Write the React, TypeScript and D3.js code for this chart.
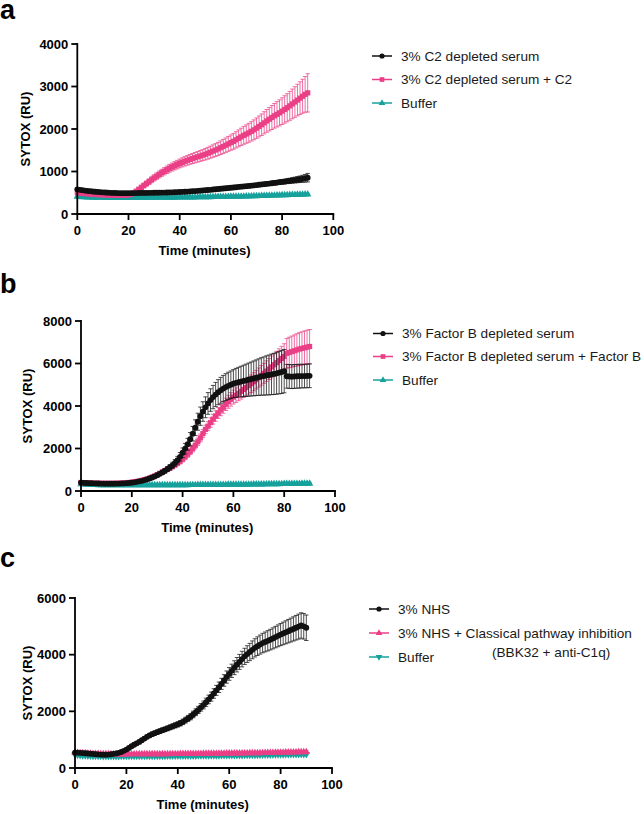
import React from "react";
import * as d3 from "d3";

// ---------- DATA ----------
const times: number[] = d3.range(0, 91, 1); // kinetic reads every minute, 0..90 min
const xTicks = [0, 20, 40, 60, 80, 100];

// Panel a
const aLegend = ["3% C2 depleted serum", "3% C2 depleted serum + C2", "Buffer"];
const aYTicks = [0, 1000, 2000, 3000, 4000];
const aBlack = [
  580,570,560,551,543,536,530,524,519,514,
  510,506,502,499,496,494,492,491,490,490,
  490,491,492,493,494,495,496,497,498,499,
  500,501,502,503,504,506,508,510,512,515,
  518,521,524,528,532,536,540,545,550,555,
  560,565,570,576,582,588,594,600,606,612,
  618,624,630,636,642,648,654,660,667,674,
  681,688,695,702,709,716,724,732,740,748,
  756,764,772,781,790,799,808,818,828,840,
  855];
const aBlackErr = [
  40,38,35,33,30,28,26,25,24,23,
  22,21,20,20,20,20,20,20,20,20,
  20,20,20,20,20,20,20,20,20,20,
  20,20,20,20,20,21,21,22,22,23,
  23,24,24,25,25,26,26,27,27,28,
  28,29,29,30,30,31,31,32,32,33,
  33,34,34,35,35,36,36,37,38,39,
  40,41,42,43,44,45,46,48,50,52,
  54,56,58,61,64,68,72,76,82,90,
  100];
const aPink = [
  500,493,486,480,474,469,464,460,456,453,
  450,448,446,444,443,442,442,442,443,445,
  450,465,495,535,580,625,670,715,760,805,
  850,890,930,970,1005,1040,1075,1105,1135,1162,
  1190,1215,1240,1262,1285,1305,1325,1345,1365,1385,
  1405,1430,1455,1480,1505,1530,1560,1590,1620,1650,
  1680,1710,1745,1780,1815,1850,1880,1910,1945,1980,
  2020,2060,2100,2145,2190,2230,2270,2310,2345,2380,
  2420,2460,2500,2545,2590,2635,2680,2725,2770,2815,
  2850];
const aPinkErr = [
  30,30,30,30,30,30,30,30,30,30,
  30,30,30,30,30,30,30,30,30,32,
  35,38,42,46,50,54,58,62,66,70,
  73,76,79,82,85,88,91,94,97,100,
  103,106,109,112,115,118,121,124,127,130,
  134,138,142,146,150,155,160,165,170,175,
  180,186,192,198,204,210,216,222,228,234,
  240,247,254,261,268,275,282,290,298,306,
  314,322,331,340,350,360,372,385,400,420,
  450];
const aTeal = [
  410,404,399,395,392,390,388,386,385,384,
  383,382,381,381,380,380,380,380,380,380,
  380,380,380,381,381,382,382,383,383,384,
  384,385,385,386,386,387,387,388,388,389,
  389,390,390,391,392,393,394,395,396,397,
  398,399,400,401,402,403,404,405,406,407,
  408,409,410,411,412,413,415,417,419,421,
  423,425,427,429,431,433,435,437,439,441,
  443,445,447,449,451,453,455,457,459,461,
  463];
const aTealErr = [
  20,19,18,17,16,15,15,15,15,15,
  15,15,15,15,15,15,15,15,15,15,
  15,15,15,15,15,15,15,15,15,15,
  15,15,15,15,15,15,15,15,16,16,
  16,16,16,16,17,17,17,17,17,18,
  18,18,18,18,19,19,19,19,19,20,
  20,20,20,20,21,21,21,21,21,22,
  22,22,22,22,23,23,23,23,23,24,
  24,24,24,24,25,25,25,25,25,25,
  25];

// Panel b
const bLegend = ["3% Factor B depleted serum", "3% Factor B depleted serum + Factor B", "Buffer"];
const bYTicks = [0, 2000, 4000, 6000, 8000];
const bBlack = [
  395,385,377,370,364,359,355,352,349,347,
  346,345,345,346,348,351,355,361,369,380,
  393,410,430,453,480,512,548,590,636,688,
  745,808,876,950,1030,1115,1210,1320,1450,1610,
  1800,1990,2200,2440,2700,2980,3260,3520,3740,3940,
  4120,4280,4420,4540,4650,4740,4820,4890,4950,5000,
  5050,5090,5120,5150,5180,5210,5240,5270,5300,5330,
  5360,5390,5410,5440,5460,5490,5510,5540,5570,5600,
  5640,5400,5390,5380,5390,5400,5400,5410,5410,5415,
  5420];
const bBlackErr = [
  40,38,35,33,32,30,30,30,30,30,
  30,30,30,30,30,30,32,34,36,38,
  40,42,45,48,52,56,60,65,70,76,
  82,90,98,108,118,130,145,160,180,200,
  225,250,280,310,340,370,400,430,460,490,
  510,530,550,570,590,610,620,630,640,650,
  660,680,700,720,740,760,780,800,820,840,
  860,880,900,920,940,955,970,985,1000,1010,
  1020,560,560,560,560,560,560,555,555,555,
  555];
const bPink = [
  400,393,386,380,375,370,366,363,361,360,
  359,359,360,362,365,369,374,381,390,401,
  415,432,452,476,503,535,570,610,655,705,
  770,830,890,950,1015,1080,1150,1225,1305,1395,
  1500,1610,1730,1860,2000,2150,2320,2500,2700,2900,
  3050,3220,3380,3530,3670,3810,3940,4080,4200,4310,
  4420,4510,4600,4690,4780,4870,4960,5050,5140,5240,
  5340,5440,5540,5640,5740,5840,5940,6040,6140,6240,
  6330,6480,6520,6560,6600,6640,6680,6710,6740,6770,
  6800];
const bPinkErr = [
  40,38,36,34,32,30,30,30,30,30,
  30,30,30,30,30,30,32,34,36,38,
  40,42,45,48,52,56,60,64,68,72,
  76,80,85,90,95,100,106,112,118,124,
  130,137,144,151,158,166,174,182,190,200,
  210,220,232,244,256,268,280,292,304,316,
  328,340,352,364,376,388,400,412,424,436,
  448,460,472,484,496,508,520,535,550,570,
  600,700,715,730,745,760,770,780,790,795,
  800];
const bTeal = [
  320,310,302,296,291,287,284,281,279,277,
  276,275,274,273,273,272,272,272,272,272,
  272,273,273,274,274,275,275,276,276,277,
  277,278,278,279,279,280,280,281,281,282,
  282,283,283,284,284,285,286,287,288,289,
  290,291,292,293,294,295,296,297,298,299,
  300,301,302,303,304,305,306,308,310,312,
  314,316,318,320,322,324,326,328,330,332,
  334,336,338,340,342,343,344,345,346,347,
  348];
const bTealErr = [
  40,40,40,40,40,40,40,40,40,40,
  40,40,40,40,40,40,40,40,40,40,
  40,40,40,40,40,41,41,41,41,41,
  42,42,42,42,42,43,43,43,43,43,
  44,44,44,44,45,45,45,46,46,46,
  47,47,47,48,48,48,49,49,49,50,
  50,50,51,51,52,52,53,53,54,54,
  55,55,56,56,56,57,57,57,58,58,
  58,58,59,59,59,59,60,60,60,60,
  60];

// Panel c
const cLegend = ["3% NHS", "3% NHS + Classical pathway inhibition", "Buffer"];
const cLegendExtra = "(BBK32 + anti-C1q)";
const cYTicks = [0, 2000, 4000, 6000];
const cBlack = [
  545,540,535,528,520,512,505,497,488,480,
  473,470,470,474,485,500,515,535,565,605,
  650,710,770,820,870,920,980,1040,1100,1150,
  1195,1230,1265,1300,1333,1366,1400,1435,1470,1505,
  1540,1580,1630,1690,1750,1810,1890,1970,2050,2140,
  2225,2320,2420,2520,2630,2740,2850,2970,3090,3210,
  3320,3430,3540,3645,3745,3845,3940,4020,4095,4170,
  4240,4300,4355,4410,4450,4490,4530,4575,4620,4665,
  4710,4750,4790,4830,4870,4910,4950,4990,5030,5000,
  4950];
const cBlackErr = [
  30,30,30,30,30,30,30,30,30,30,
  30,30,30,30,30,32,34,36,40,44,
  48,52,55,58,60,62,64,66,68,70,
  72,74,76,78,80,82,84,86,88,90,
  92,95,98,102,106,110,115,120,126,132,
  138,145,152,160,168,176,185,195,205,215,
  225,235,245,255,265,275,285,295,305,315,
  322,329,336,343,350,357,364,371,378,385,
  392,399,406,413,420,427,434,441,448,450,
  450];
const cPink = [
  545,538,532,526,520,514,509,505,501,498,
  495,493,491,489,488,487,486,486,486,486,
  486,487,487,488,488,489,489,490,490,491,
  491,492,492,493,493,494,494,495,495,496,
  496,497,498,499,500,501,502,503,504,505,
  506,507,508,509,510,511,512,513,514,515,
  516,517,518,519,520,521,522,523,524,525,
  526,528,530,532,534,536,538,540,542,544,
  546,548,550,552,554,556,558,560,562,564,
  566];
const cPinkErr = [
  32,31,30,30,30,30,30,30,30,30,
  30,30,30,30,30,30,30,30,30,30,
  30,30,30,31,31,31,31,31,32,32,
  32,32,32,33,33,33,33,33,34,34,
  34,34,35,35,35,36,36,36,37,37,
  37,38,38,38,39,39,39,40,40,40,
  41,41,41,42,42,42,43,43,43,44,
  44,44,45,45,45,46,46,46,47,47,
  47,48,48,48,49,49,49,50,50,50,
  50];
const cTeal = [
  470,460,452,445,439,434,430,427,424,422,
  421,420,420,420,420,420,420,420,421,421,
  422,422,423,423,424,424,425,425,426,426,
  427,427,428,428,429,429,430,430,431,431,
  432,432,433,434,435,436,437,438,439,440,
  441,442,443,444,445,446,447,448,449,450,
  451,452,453,454,455,456,457,458,459,460,
  461,463,465,467,469,471,473,475,477,479,
  481,482,483,484,485,486,487,488,489,490,
  491];
const cTealErr = [
  26,26,25,25,25,25,25,25,25,25,
  25,25,25,25,25,25,25,25,25,25,
  25,25,25,25,25,25,25,25,25,26,
  26,26,26,26,26,26,26,26,26,26,
  27,27,27,27,27,27,27,27,27,27,
  28,28,28,28,28,28,28,28,28,28,
  29,29,29,29,29,29,29,29,29,29,
  30,30,30,30,30,30,30,30,30,30,
  31,31,31,31,31,31,31,31,31,31,
  32];

// ---------- STYLE ----------
const BLACK = "#111111";
const PINK = "#EA3F86";
const TEAL = "#17A19C";
const FONT = "'Liberation Sans', Arial, Helvetica, sans-serif";

type Shape = "circle" | "square" | "triUp" | "triDown";
type Series = { values: number[]; err: number[]; color: string; shape: Shape };

function Marker({ x, y, shape, color, s = 1 }: { x: number; y: number; shape: Shape; color: string; s?: number }) {
  if (shape === "circle") return <circle cx={x} cy={y} r={2.9 * s} fill={color} />;
  if (shape === "square") return <rect x={x - 2.6 * s} y={y - 2.6 * s} width={5.2 * s} height={5.2 * s} fill={color} />;
  const sym = d3.symbol().type(d3.symbolTriangle).size(24 * s * s)();
  return <path d={sym || ""} transform={`translate(${x},${y})${shape === "triDown" ? " rotate(180)" : ""}`} fill={color} />;
}

type PanelProps = {
  letter: string;
  letterY: number;
  x0: number; x1: number; yTop: number; yBot: number;
  yMax: number; yTicks: number[];
  series: Series[]; // drawing order
  legend: string[];
  legendShapes: { color: string; shape: Shape }[];
  legX: number; legRows: number[];
  extra?: { text: string; x: number; y: number };
  yLabelX: number;
};

function Panel(p: PanelProps) {
  const x = d3.scaleLinear().domain([0, 100]).range([p.x0, p.x1]);
  const y = d3.scaleLinear().domain([0, p.yMax]).range([p.yBot, p.yTop]);
  const line = d3.line<number>().x((_, i) => x(times[i])).y((v) => y(v));
  const cap = 2.2;
  return (
    <g>
      <text x={0} y={p.letterY} fontSize={27} fontWeight="bold" fontFamily={FONT} fill="#000">{p.letter}</text>
      {p.series.map((s, si) => (
        <g key={si}>
          {s.values.map((v, i) => {
            const cx = x(times[i]);
            const yt = y(v + s.err[i]);
            const yb = y(v - s.err[i]);
            return (
              <g key={i} stroke={s.color} strokeWidth={0.75}>
                <line x1={cx} x2={cx} y1={yt} y2={yb} />
                <line x1={cx - cap} x2={cx + cap} y1={yt} y2={yt} />
                <line x1={cx - cap} x2={cx + cap} y1={yb} y2={yb} />
              </g>
            );
          })}
          <path d={line(s.values) || ""} fill="none" stroke={s.color} strokeWidth={1.2} />
          {s.values.map((v, i) => (
            <Marker key={i} x={x(times[i])} y={y(v)} shape={s.shape} color={s.color} />
          ))}
        </g>
      ))}
      {/* axes */}
      <g stroke="#000" strokeWidth={1.8} fill="none">
        <line x1={p.x0} x2={p.x0} y1={p.yTop - 0.9} y2={p.yBot + 0.9} />
        <line x1={p.x0 - 0.9} x2={p.x1 + 0.9} y1={p.yBot} y2={p.yBot} />
        {p.yTicks.map((t) => (
          <line key={"y" + t} x1={p.x0 - 6} x2={p.x0} y1={y(t)} y2={y(t)} />
        ))}
        {xTicks.map((t) => (
          <line key={"x" + t} x1={x(t)} x2={x(t)} y1={p.yBot} y2={p.yBot + 6} />
        ))}
      </g>
      <g fontFamily={FONT} fontWeight="bold" fontSize={13} fill="#000">
        {p.yTicks.map((t) => (
          <text key={"yl" + t} x={p.x0 - 9} y={y(t)} dy="0.36em" textAnchor="end">{t}</text>
        ))}
        {xTicks.map((t) => (
          <text key={"xl" + t} x={x(t)} y={p.yBot + 21} textAnchor="middle">{t}</text>
        ))}
        <text x={(p.x0 + x(90)) / 2 + 12} y={p.yBot + 41} textAnchor="middle">Time (minutes)</text>
        <text transform={`translate(${p.yLabelX},${(p.yTop + p.yBot) / 2}) rotate(-90)`} textAnchor="middle" dy="0.36em">SYTOX (RU)</text>
      </g>
      {/* legend */}
      <g fontFamily={FONT} fontSize={13.6} fill="#1a1a1a">
        {p.legend.map((lab, i) => {
          const ly = p.legRows[i];
          const sh = p.legendShapes[i];
          return (
            <g key={lab}>
              <line x1={p.legX} x2={p.legX + 20} y1={ly} y2={ly} stroke={sh.color} strokeWidth={1.5} />
              <Marker x={p.legX + 10} y={ly} shape={sh.shape} color={sh.color} s={0.9} />
              <text x={p.legX + 29} y={ly} dy="0.36em">{lab}</text>
            </g>
          );
        })}
        {p.extra && <text x={p.extra.x} y={p.extra.y} dy="0.36em">{p.extra.text}</text>}
      </g>
    </g>
  );
}

export default function App() {
  return (
    <svg width={644} height={814} viewBox="0 0 644 814" style={{ position: "absolute", left: 0, top: 0, background: "#fff" }}>
      <rect width={644} height={814} fill="#fff" />
      <Panel
        letter="a" letterY={19}
        x0={77.3} x1={333.3} yTop={44} yBot={214} yMax={4000} yTicks={aYTicks}
        series={[
          { values: aTeal, err: aTealErr, color: TEAL, shape: "triUp" },
          { values: aPink, err: aPinkErr, color: PINK, shape: "square" },
          { values: aBlack, err: aBlackErr, color: BLACK, shape: "circle" },
        ]}
        legend={aLegend}
        legendShapes={[{ color: BLACK, shape: "circle" }, { color: PINK, shape: "square" }, { color: TEAL, shape: "triUp" }]}
        legX={372} legRows={[56, 79.5, 103]}
        yLabelX={25}
      />
      <Panel
        letter="b" letterY={293}
        x0={81} x1={335} yTop={321} yBot={491} yMax={8000} yTicks={bYTicks}
        series={[
          { values: bTeal, err: bTealErr, color: TEAL, shape: "triUp" },
          { values: bPink, err: bPinkErr, color: PINK, shape: "square" },
          { values: bBlack, err: bBlackErr, color: BLACK, shape: "circle" },
        ]}
        legend={bLegend}
        legendShapes={[{ color: BLACK, shape: "circle" }, { color: PINK, shape: "square" }, { color: TEAL, shape: "triUp" }]}
        legX={373} legRows={[333.5, 356.5, 380]}
        yLabelX={27}
      />
      <Panel
        letter="c" letterY={567}
        x0={75} x1={332} yTop={598} yBot={768} yMax={6000} yTicks={cYTicks}
        series={[
          { values: cTeal, err: cTealErr, color: TEAL, shape: "triDown" },
          { values: cPink, err: cPinkErr, color: PINK, shape: "triUp" },
          { values: cBlack, err: cBlackErr, color: BLACK, shape: "circle" },
        ]}
        legend={cLegend}
        legendShapes={[{ color: BLACK, shape: "circle" }, { color: PINK, shape: "triUp" }, { color: TEAL, shape: "triDown" }]}
        legX={369} legRows={[609, 633, 657]}
        extra={{ text: cLegendExtra, x: 492, y: 652 }}
        yLabelX={27}
      />
    </svg>
  );
}
